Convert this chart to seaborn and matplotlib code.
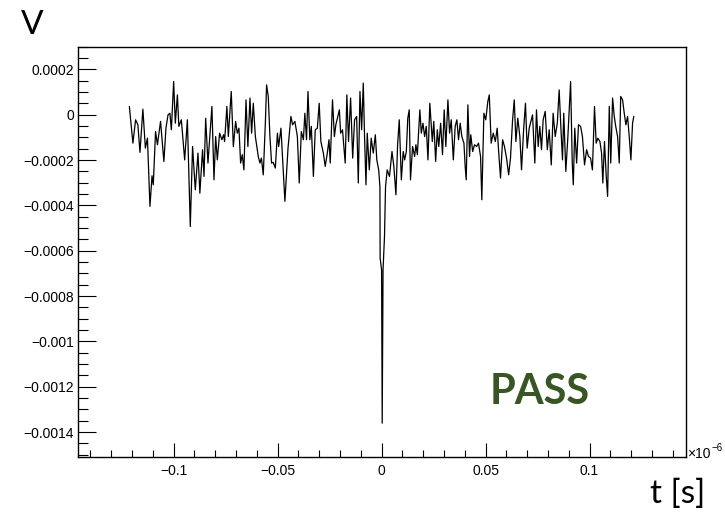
import numpy as np
import pandas as pd
import matplotlib
matplotlib.use("Agg")
import matplotlib.pyplot as plt
import seaborn as sns
from matplotlib.ticker import MultipleLocator, FuncFormatter

# time in ns, voltage in units of 1e-4 V
t_ns = [
    -121.3, -119.6, -118.3, -117.2, -116.2, -114.8, -113.6, -112.6, -111.4, -110.4,
    -109.8, -108.7, -107.8, -106.3, -104.7, -103.7, -102.7, -101.8, -101.1, -100.0,
    -99.2, -98.2, -97.5, -96.3, -94.7, -93.4, -92.0, -90.9, -89.6, -88.3,
    -87.4, -86.1, -85.4, -84.6, -83.5, -81.6, -80.6, -79.8, -79.0, -77.9,
    -76.8, -76.0, -75.5, -74.4,
    -73.7, -72.3, -71.3, -70.2, -69.4, -68.6, -67.8, -67.0, -66.2, -65.2,
    -64.3, -63.3, -62.5, -61.7, -60.7, -59.3, -58.5, -57.8, -56.9, -55.9,
    -55.3, -54.5, -53.7, -52.9, -52.1, -51.1, -50.1, -49.5, -48.4, -46.5,
    -45.0, -43.6, -42.8, -41.7, -40.5, -39.6, -38.6, -37.6, -36.9, -36.1,
    -35.4, -34.5, -33.8, -32.8, -31.9, -30.9, -30.0, -29.2, -28.0, -27.1,
    -26.1, -25.3,
    -24.7, -23.6, -22.7, -22.0, -20.3, -19.7, -18.8, -17.5, -16.7, -15.9,
    -14.9, -13.9, -13.0, -12.0, -11.2, -10.4, -9.6, -8.8, -8.2, -7.5,
    -6.9, -5.9, -5.0, -4.0, -3.0, -2.3, -1.4, -0.8, -0.7, 0.0,
    0.3, 0.7, 1.4, 1.9, 2.7, 3.8, 5.0, 5.9, 6.9, 7.7,
    8.5, 9.5, 10.4, 11.1, 11.9, 12.6, 13.3, 13.9, 14.9, 15.9,
    16.5, 17.2, 17.8, 18.4, 19.1, 19.9, 20.7, 21.5, 22.3, 23.2,
    24.4, 25.1, 26.0, 26.8, 27.5, 28.4, 29.3, 30.1, 30.9, 31.9,
    32.7, 33.5, 34.5, 35.4, 36.2, 37.0, 37.8, 38.6, 39.6, 40.2,
    40.7, 41.5, 42.3, 42.9, 43.8, 44.7, 45.7, 46.6, 47.6, 48.2,
    49.2, 50.1, 51.1, 51.8, 52.7, 53.7, 54.7, 55.6, 56.4, 57.2,
    58.2, 59.1, 60.1, 61.1, 62.0, 63.0, 63.8, 64.6, 65.5, 66.5,
    67.3, 68.3, 69.2, 70.0, 71.0, 72.0, 72.6,
    73.7, 74.5, 75.3, 76.1, 76.9, 77.7, 78.7, 79.7, 80.6, 81.6,
    82.5, 83.5, 84.5, 85.4, 86.2, 87.0, 87.6, 88.6, 89.6, 90.9,
    91.7, 92.2, 92.9, 93.8, 94.7, 95.7, 96.6, 97.6, 98.6, 99.5,
    100.5, 101.4, 102.4, 103.2, 104.0, 105.0, 105.8, 106.4, 107.2, 108.0,
    108.7, 109.5, 110.2, 111.1, 111.9, 112.6, 113.5, 114.3, 115.0, 115.9,
    116.7, 117.5, 118.3, 119.1, 119.9, 120.7, 121.3,
]
v_1e4 = [
    0.37, -1.25, -0.22, -0.44, -1.66, 0.25, -1.47, -1.03, -4.04, -2.69,
    -3.09, -0.74, -1.32, -0.29, -2.06, -0.59, 0.00, 0.07, -0.66, 1.47,
    -0.37, 0.88, -0.51, -0.22, -1.99, -0.22, -4.93, -1.40, -3.31, -1.69,
    -3.46, -1.54, -2.72, -0.15, -2.13, 0.37, -2.87, -0.96, -1.99, -0.81,
    -1.10, -0.88, -1.18, 0.37,
    -0.96, 1.03, -1.40, -0.29, -0.81, -0.59, -2.13, -1.76, -2.43, 0.66,
    -1.40, 0.74, -0.81, 0.51, -0.96, -1.84, -2.13, -1.91, -2.65, -0.37,
    1.32, 0.81, -0.96, -2.13, -2.10, -2.35, -0.81, -1.40, -0.59, -3.82,
    -1.47, -0.07, -0.44, -0.29, -0.96, -3.01, -0.74, -1.10, 0.07, -1.10,
    1.03, -1.10, -0.51, -2.72, -0.66, -0.59, 0.51, -1.18, -1.69, -2.28,
    -1.69, -1.10,
    -2.13, 0.66, -0.96, -0.44, 0.22, -0.81, -0.66, -2.13, 0.88, -1.18,
    0.74, -1.91, -0.22, -0.07, -3.01, 1.03, -0.66, 1.40, -0.96, -3.09,
    -0.81, -2.43, -1.03, -1.69, -0.88, -1.99, -2.43, -3.17, -6.33, -6.84,
    -13.61, -6.84, -5.37, -3.17, -2.43, -2.72, -1.62, -2.28, -3.53, -1.32,
    -0.22, -2.87, -1.62, -1.99, -1.62, -0.15, 0.22, -2.87, -1.40, -1.84,
    -1.32, -1.76, -0.74, 0.22, -0.81, -0.37, -0.96, -0.51, -1.99, 0.51,
    -1.18, -0.29, -2.06, -0.66, -1.40, -0.37, -1.76, 0.22, -1.40, 0.66,
    -0.81, -0.22, -1.99, -0.51, -0.22, -1.10, -0.37, -0.96, -1.25, -2.28,
    -2.87, 0.44, -1.84, -0.88, -1.62, -1.32, -1.40, -1.25, -1.84, -3.75,
    0.07, -0.22, 0.59, 0.88, -1.25, -0.81, -1.18, -0.59, -1.76, -2.79,
    -1.10, -1.40, -1.91, -2.65, -1.91, -0.22, 0.66, -1.18, -0.15, -0.96,
    -2.43, -0.66, 0.51, -1.47, -0.59, -0.22, 0.00,
    -2.13, 0.22, -1.40, -0.51, -1.54, -0.22, 0.15, -1.54, -0.66, -2.21,
    0.07, -0.96, -0.37, 1.10, -0.51, -1.99, 0.07, -2.50, -0.96, 1.47,
    -2.13, -3.09, -0.59, -2.13, -0.44, -0.51, -0.96, -2.21, -1.54, -1.84,
    -1.91, -2.43, 0.37, -1.25, -1.03, -1.18, -1.69, -3.01, -1.18, -2.65,
    -3.60, 0.37, -2.13, 0.74, -0.07, -0.51, -0.96, -2.13, 0.81, 0.66,
    0.07, -0.44, -0.07, -0.96, -1.99, -0.37, -0.07,
]

x_major = 0.05
x_minor = 0.01
y_major = 0.0002
y_minor = 0.00005

df = pd.DataFrame({"t": np.array(t_ns) * 1e-3, "V": np.array(v_1e4) * 1e-4})

sns.set_style("white")
plt.rcParams["font.family"] = ["Liberation Sans", "DejaVu Sans"]
plt.rcParams["text.color"] = "black"

W, H = 725, 512
fig = plt.figure(figsize=(W / 100, H / 100), dpi=100)
ax = fig.add_axes([78 / W, 1 - 456.7 / H, (686 - 78) / W, (456.7 - 46.5) / H])

sns.lineplot(data=df, x="t", y="V", ax=ax, color="black", lw=0.9,
             sort=False, estimator=None)

ax.set_xlim(-0.1460, 0.1464)
ax.set_ylim(-0.001509, 0.0003015)
ax.set_xlabel("")
ax.set_ylabel("")

ax.xaxis.set_major_locator(MultipleLocator(x_major))
ax.xaxis.set_minor_locator(MultipleLocator(x_minor))
ax.yaxis.set_major_locator(MultipleLocator(y_major))
ax.yaxis.set_minor_locator(MultipleLocator(y_minor))


def fmt(v, pos):
    if abs(v) < 1e-12:
        return "0"
    return ("%g" % round(v, 10)).replace("-", "\u2212")


ax.xaxis.set_major_formatter(FuncFormatter(fmt))
ax.yaxis.set_major_formatter(FuncFormatter(fmt))

ax.tick_params(which="both", direction="in", bottom=True, left=True,
               top=False, right=False, colors="black", width=0.8)
ax.tick_params(axis="y", which="major", length=13, pad=3, labelsize=10)
ax.tick_params(axis="y", which="minor", length=7)
ax.tick_params(axis="x", which="major", length=10, pad=5, labelsize=10)
ax.tick_params(axis="x", which="minor", length=5)

for s in ax.spines.values():
    s.set_color("black")
    s.set_linewidth(1.0)
    s.set_visible(True)

fig.text(687 / W, 1 - 458 / H, "\u00d710", fontsize=10, va="baseline",
         ha="left", color="black")
fig.text(711 / W, 1 - 451 / H, "\u22126", fontsize=7, va="baseline",
         ha="left", color="black")

fig.text(21 / W, 1 - 34 / H, "V", fontsize=24, family="Lato",
         va="baseline", ha="left", color="black")
fig.text(705 / W, 1 - 503 / H, "t [s]", fontsize=24, family="Lato",
         va="baseline", ha="right", color="black")
fig.text(490 / W, 1 - 404 / H, "PASS", fontsize=30, family="Lato",
         weight="bold", color="#375623", va="baseline", ha="left")

fig.savefig("out.png", dpi=100)
